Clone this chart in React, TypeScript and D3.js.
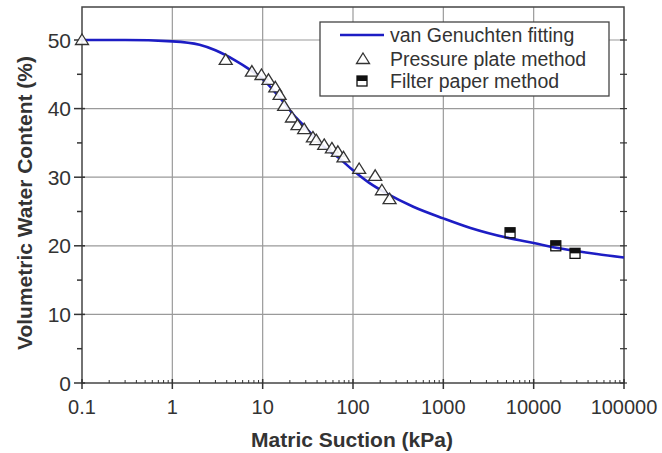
import React from "react";
import * as d3 from "d3";

// curve points (suction kPa, water content %)
const fitSuction = [0.1, 0.3, 1, 2, 3, 5, 7, 10, 15, 22, 30, 43.5, 70, 100, 150, 238, 465, 1000, 2000, 5000, 10000, 20000, 50000, 100000];
const fitTheta = [50.0, 50.0, 49.8, 49.3, 48.5, 47.0, 45.8, 44.3, 41.8, 39.1, 37.2, 34.9, 32.8, 31.0, 29.2, 27.6, 25.7, 24.0, 22.6, 21.2, 20.4, 19.6, 18.8, 18.3];

// pressure plate method
const plateSuction = [0.1, 3.9, 7.6, 9.7, 11.6, 13.8, 15.4, 17.3, 21.1, 24.3, 28.8, 36, 39.2, 48, 58.4, 68, 78.5, 117, 176, 209, 254];
const plateTheta = [50.0, 47.1, 45.4, 44.9, 44.2, 43.1, 42.0, 40.4, 38.7, 37.6, 37.0, 35.8, 35.4, 34.7, 34.2, 33.7, 32.9, 31.2, 30.2, 28.1, 26.8];

// filter paper method
const paperSuction = [5480, 17580, 28700];
const paperTheta = [21.9, 20.0, 18.9];

const xTicks = [0.1, 1, 10, 100, 1000, 10000, 100000];
const xTickLabels = ["0.1", "1", "10", "100", "1000", "10000", "100000"];
const yTicks = [0, 10, 20, 30, 40, 50];
const yMinor = [5, 15, 25, 35, 45];

const W = 662;
const H = 453;
const left = 82;
const right = 624;
const bottom = 383;
const top = 7;
const font = "'Liberation Sans', Arial, sans-serif";
const blue = "#1d1dc4";

const App: React.FC = () => {
  const x = d3.scaleLog().domain([0.1, 100000]).range([left, right]);
  const y = d3.scaleLinear().domain([0, 50]).range([bottom, 40]);

  const line = d3
    .line<number>()
    .x((d, i) => x(fitSuction[i]))
    .y((d) => y(d))
    .curve(d3.curveMonotoneX);

  const minorX: number[] = [];
  for (let e = -1; e < 5; e++) {
    for (let m = 2; m < 10; m++) minorX.push(m * Math.pow(10, e));
  }

  const tri = (cx: number, cy: number) =>
    `M${cx},${cy - 6}L${cx + 6.5},${cy + 4.5}L${cx - 6.5},${cy + 4.5}Z`;

  const paperMark = (cx: number, cy: number, k: number) => (
    <g key={k}>
      <rect x={cx - 5} y={cy - 5} width={10} height={5} fill="#111" />
      <rect x={cx - 5} y={cy - 5} width={10} height={10} fill="none" stroke="#111" strokeWidth={1.3} />
    </g>
  );

  return (
    <svg width={W} height={H} style={{ position: "absolute", left: 0, top: 0, background: "#fff" }}>
      {/* grid */}
      <g stroke="#9a9a9a" strokeWidth={1.2}>
        {xTicks.slice(1, -1).map((t) => (
          <line key={t} x1={x(t)} x2={x(t)} y1={top} y2={bottom} />
        ))}
        {yTicks.slice(1).map((t) => (
          <line key={t} x1={left} x2={right} y1={y(t)} y2={y(t)} />
        ))}
      </g>

      {/* frame */}
      <rect x={left} y={top} width={right - left} height={bottom - top} fill="none" stroke="#444" strokeWidth={1.5} />

      {/* x ticks */}
      <g stroke="#333" strokeWidth={1.5}>
        {xTicks.map((t) => (
          <line key={t} x1={x(t)} x2={x(t)} y1={bottom - 4} y2={bottom + 6} />
        ))}
        {minorX.map((t) => (
          <line key={"m" + t} x1={x(t)} x2={x(t)} y1={bottom - 3} y2={bottom} strokeWidth={1} />
        ))}
      </g>
      <g fontFamily={font} fontSize={20} fill="#333" textAnchor="middle">
        {xTicks.map((t, i) => (
          <text key={t} x={x(t)} y={414}>
            {xTickLabels[i]}
          </text>
        ))}
      </g>

      {/* y ticks */}
      <g stroke="#333" strokeWidth={1.5}>
        {yTicks.map((t) => (
          <line key={t} x1={left - 8} x2={left + 3} y1={y(t)} y2={y(t)} />
        ))}
        {yMinor.map((t) => (
          <line key={"m" + t} x1={left - 5} x2={left} y1={y(t)} y2={y(t)} />
        ))}
        {yTicks.concat(yMinor).map((t) => (
          <line key={"r" + t} x1={right - 4} x2={right + 3} y1={y(t)} y2={y(t)} strokeWidth={1.2} />
        ))}
      </g>
      <g fontFamily={font} fontSize={21} fill="#333" textAnchor="end">
        {yTicks.map((t) => (
          <text key={t} x={71} y={y(t) + 7.5}>
            {t}
          </text>
        ))}
      </g>

      {/* axis titles */}
      <text x={352} y={447} textAnchor="middle" fontFamily={font} fontSize={21} fontWeight="bold" fill="#333">
        Matric Suction (kPa)
      </text>
      <text
        transform="translate(32,203) rotate(-90)"
        textAnchor="middle"
        fontFamily={font}
        fontSize={21}
        fontWeight="bold"
        fill="#333"
      >
        Volumetric Water Content (%)
      </text>

      {/* fitted curve */}
      <path d={line(fitTheta) || ""} fill="none" stroke={blue} strokeWidth={2.6} />

      {/* pressure plate */}
      <g fill="#fff" fillOpacity={0.9} stroke="#333" strokeWidth={1.3}>
        {plateSuction.map((s, i) => (
          <path key={i} d={tri(x(s), y(plateTheta[i]))} />
        ))}
      </g>

      {/* filter paper */}
      <g>
        {paperSuction.map((s, i) => paperMark(x(s), y(paperTheta[i]), i))}
      </g>

      {/* legend */}
      <rect x={320} y={22} width={289} height={74} fill="#fff" stroke="#444" strokeWidth={1.3} />
      <line x1={340} x2={384} y1={35} y2={35} stroke={blue} strokeWidth={2.6} />
      <path d={tri(363, 59)} fill="#fff" stroke="#333" strokeWidth={1.3} />
      {paperMark(362, 81, 99)}
      <g fontFamily={font} fontSize={19.5} fill="#333">
        <text x={390} y={42}>van Genuchten fitting</text>
        <text x={390} y={65.5}>Pressure plate method</text>
        <text x={390} y={88}>Filter paper method</text>
      </g>
    </svg>
  );
};

export default App;
